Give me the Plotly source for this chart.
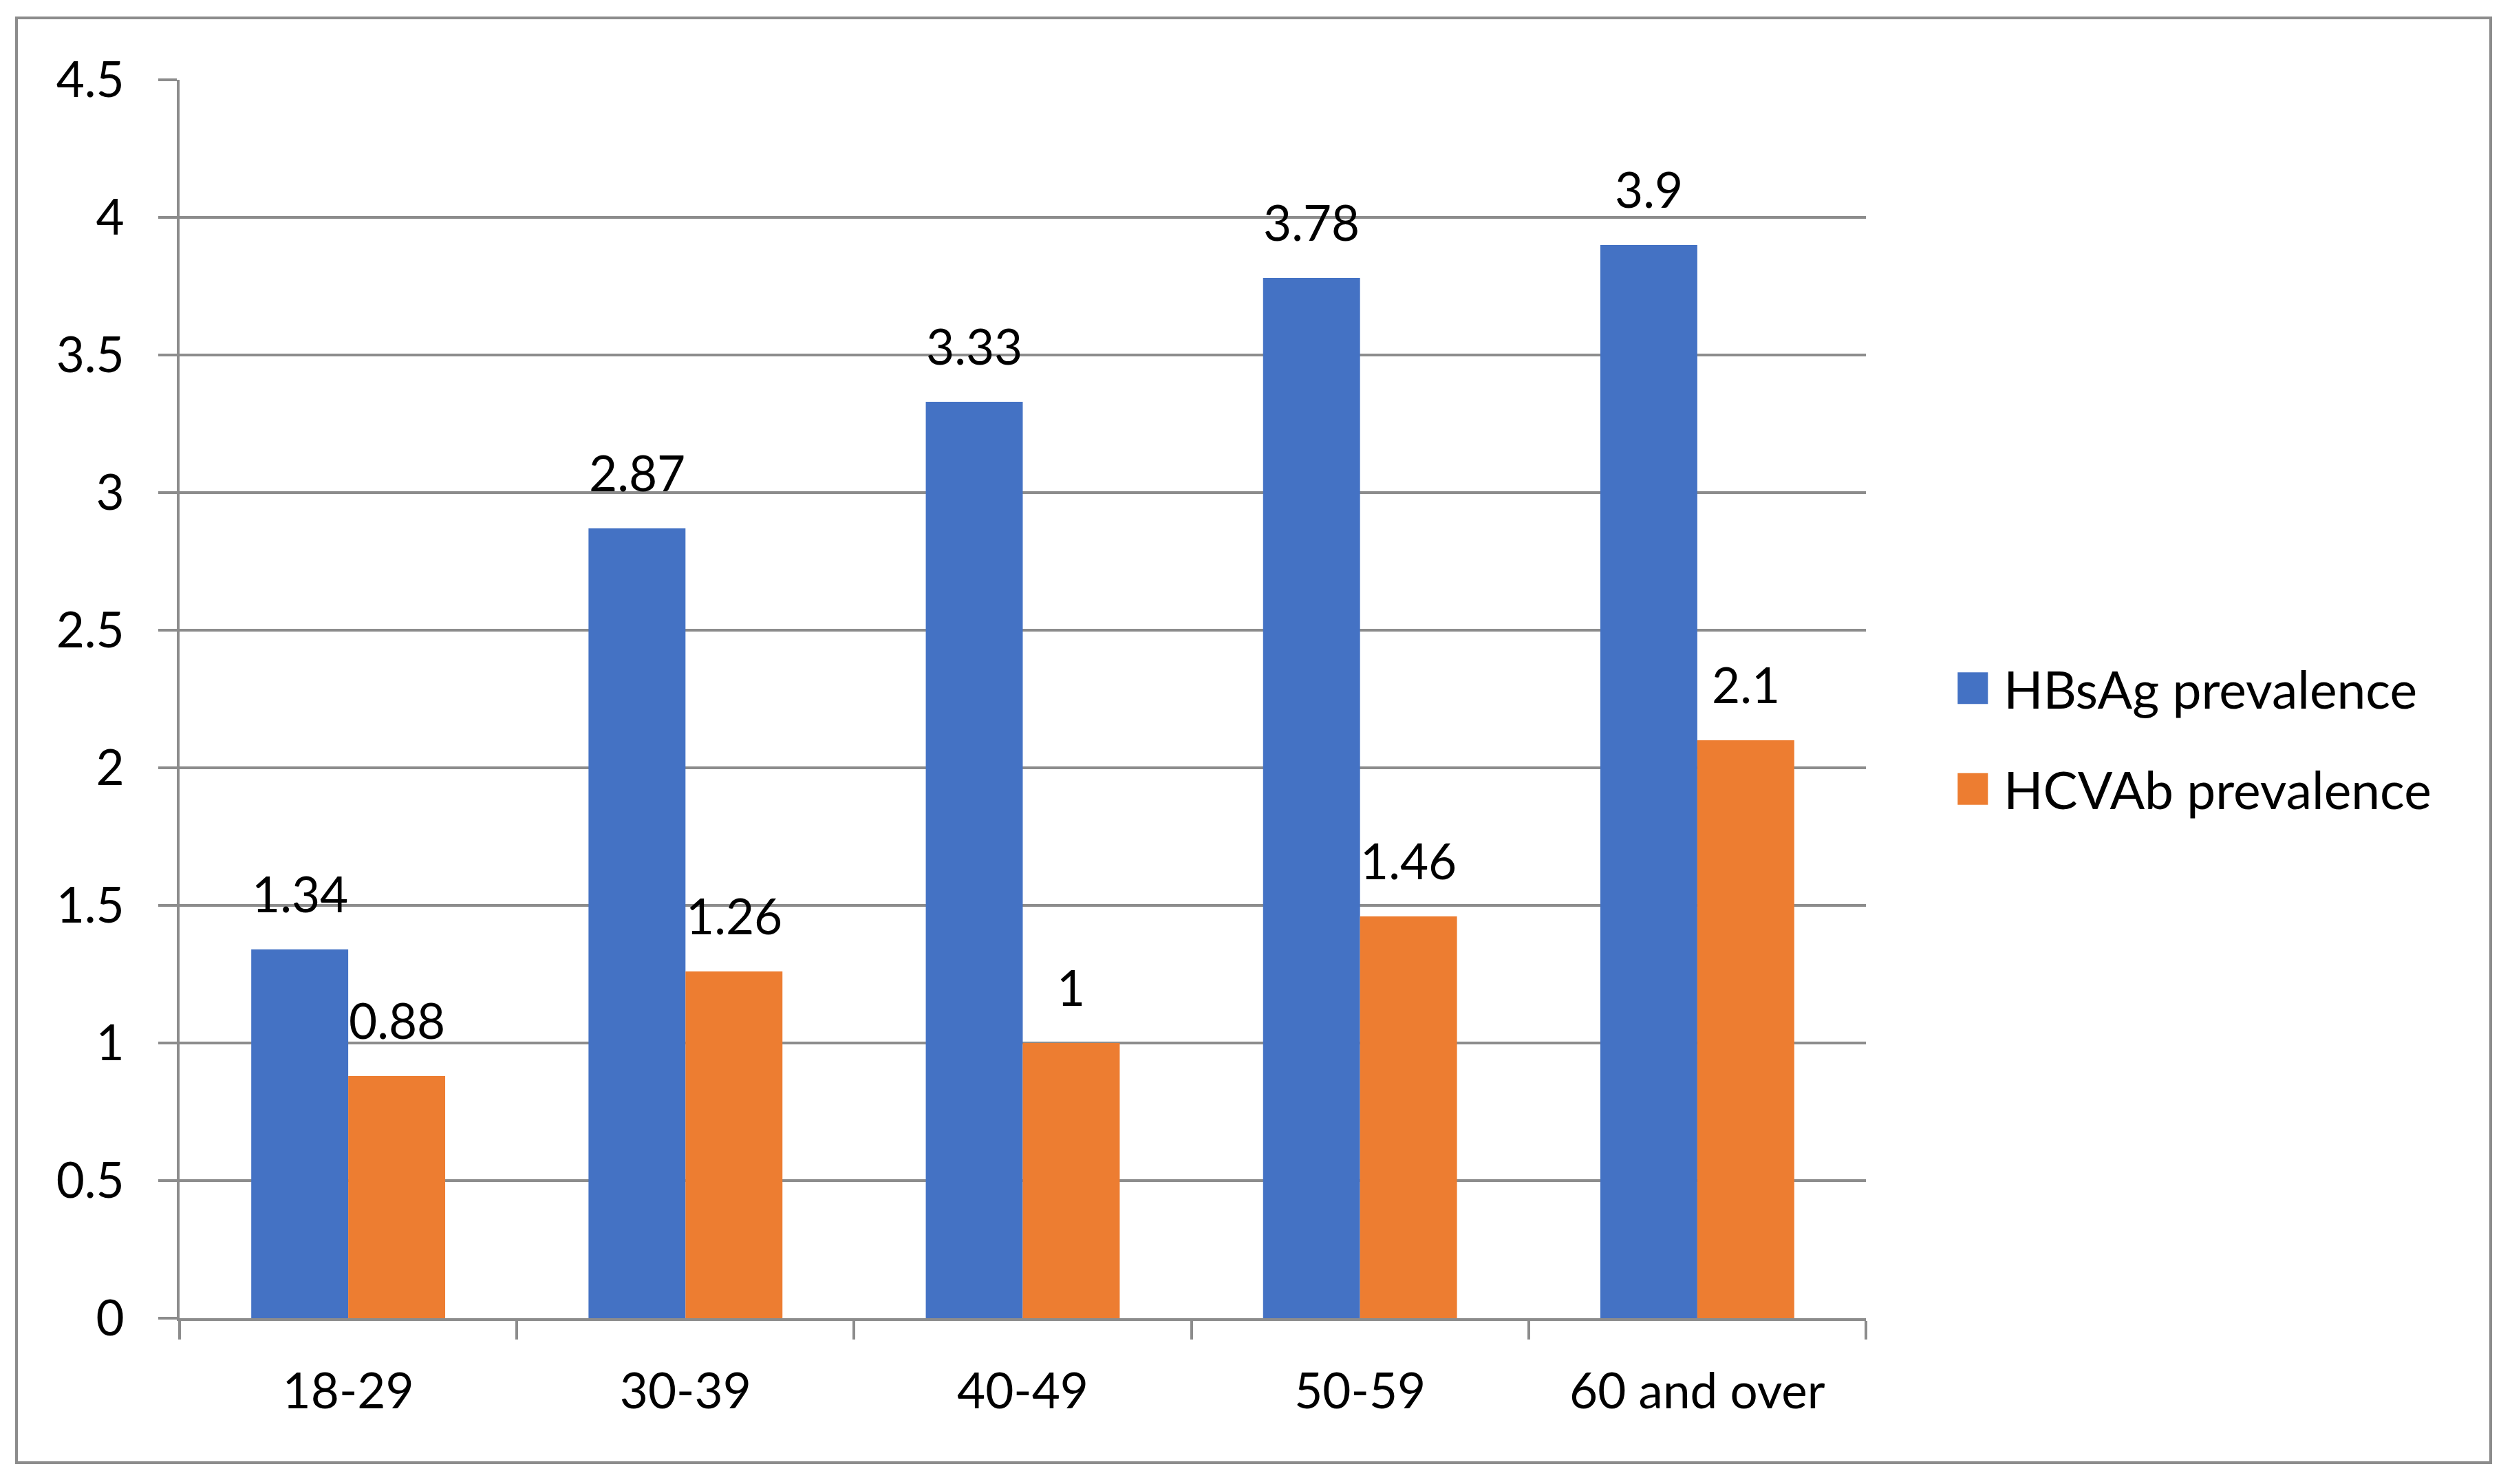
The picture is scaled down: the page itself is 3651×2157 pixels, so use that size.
import plotly.graph_objects as go

categories = ["18-29", "30-39", "40-49", "50-59", "60 and over"]
hbsag = [1.34, 2.87, 3.33, 3.78, 3.9]
hcvab = [0.88, 1.26, 1.0, 1.46, 2.1]
series_names = ["HBsAg prevalence", "HCVAb prevalence"]
series_colors = ["#4472C4", "#ED7D31"]
y_ticks = [0, 0.5, 1, 1.5, 2, 2.5, 3, 3.5, 4, 4.5]

W, H = 3651, 2157
ML, MR, MT, MB = 261, 939, 116, 241
GRAY = "#8C8C8C"
FONT = "Lato"
FS = 71
LFS = 75
BARGAP = 0.425

plot_w = W - ML - MR
plot_h = H - MT - MB

fig = go.Figure()
for i, (name, vals) in enumerate(zip(series_names, [hbsag, hcvab])):
    fig.add_trace(go.Bar(
        x=categories, y=vals, name=name,
        marker=dict(color=series_colors[i], line=dict(width=0)),
        legendgroup=name,
    ))

# data labels above bars
cat_px = plot_w / len(categories)
bar_px = cat_px * (1 - BARGAP) / 2
annotations = []
for i, vals in enumerate([hbsag, hcvab]):
    for c, v in zip(categories, vals):
        annotations.append(dict(
            x=c, y=v, xref="x", yref="y", text=f"{v:g}", showarrow=False,
            xshift=(i - 0.5) * bar_px, yshift=37, yanchor="bottom",
            font=dict(family=FONT, size=FS, color="black"),
        ))

# outer chart border in paper coords
def px_x(p):
    return (p - ML) / plot_w

def px_y(p):
    return (H - MB - p) / plot_h

shapes = [dict(
    type="rect", xref="paper", yref="paper",
    x0=px_x(24), x1=px_x(3620), y0=px_y(2126), y1=px_y(26),
    line=dict(color=GRAY, width=4), fillcolor="rgba(0,0,0,0)", layer="below",
)]

fig.update_layout(
    width=W, height=H,
    margin=dict(l=ML, r=MR, t=MT, b=MB, pad=0),
    paper_bgcolor="white", plot_bgcolor="white",
    barmode="group", bargap=BARGAP, bargroupgap=0,
    font=dict(family=FONT, size=FS, color="black"),
    showlegend=True,
    legend=dict(
        x=1.045, xanchor="left", y=0.468, yanchor="middle",
        font=dict(family=FONT, size=LFS, color="black"),
        tracegroupgap=46, itemwidth=80, bgcolor="rgba(0,0,0,0)",
    ),
    annotations=annotations,
    shapes=shapes,
)
fig.update_xaxes(
    showline=True, linecolor=GRAY, linewidth=4,
    ticks="outside", tickson="boundaries", ticklen=27, tickwidth=4, tickcolor=GRAY,
    showgrid=False, tickfont=dict(family=FONT, size=FS), ticklabelstandoff=42,
)
fig.update_yaxes(
    range=[0, 4.5], tickvals=y_ticks, ticktext=[f"{t:g}" for t in y_ticks],
    showline=True, linecolor=GRAY, linewidth=4,
    ticks="outside", ticklen=27, tickwidth=4, tickcolor=GRAY,
    showgrid=True, gridcolor=GRAY, gridwidth=4, zeroline=False,
    tickfont=dict(family=FONT, size=FS), ticklabelstandoff=35,
)

post = """
document.body.style.margin='0';
document.querySelectorAll('.legendpoints path').forEach(function(p){
  p.setAttribute('d','M22,23H-22V-23H22Z');
});
"""
fig.write_html("out.html", post_script=post, config={"displayModeBar": False})
